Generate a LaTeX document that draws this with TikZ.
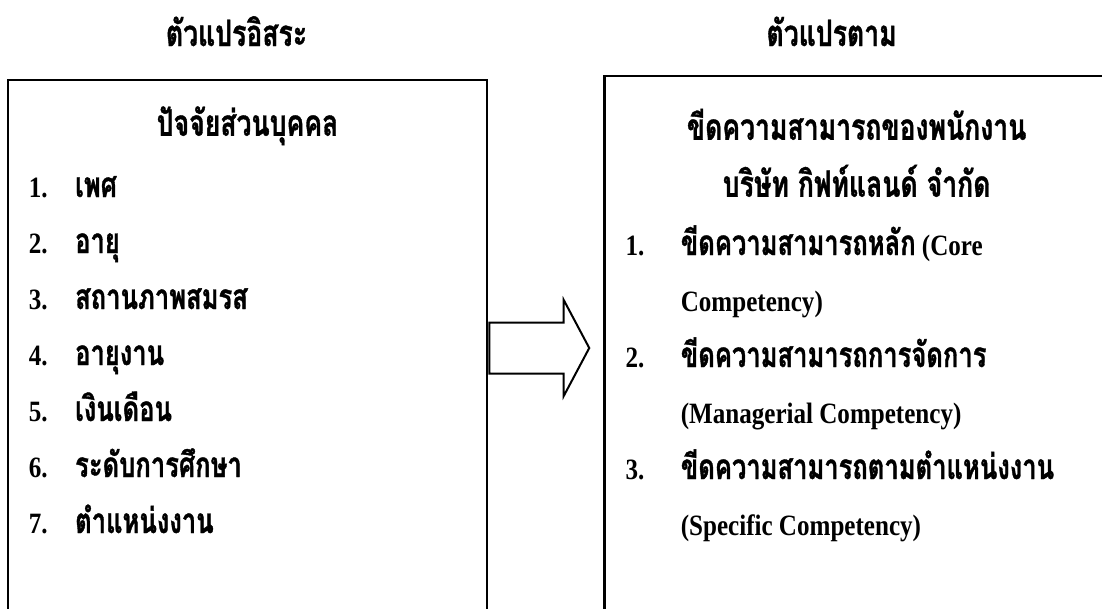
\documentclass[tikz,border=0pt]{standalone}
\usepackage{fontspec}
\setmainfont{Liberation Serif}[Scale=1.18,FakeStretch=0.85]
\newfontfamily\thaifont[Script=Thai,Scale=1.4,FakeStretch=0.73,FakeBold=1]{Loma}
\newcommand{\thaitxt}[1]{{\thaifont #1}}
\usetikzlibrary{positioning,shapes.arrows}

\begin{document}
\begin{tikzpicture}[x=1pt,y=-1pt]
        \tikzstyle{panel} = [rectangle, draw=black, line width=2.5pt, inner sep=0pt]
        \tikzstyle{bigarrow} = [single arrow, draw=black, line width=2pt, inner xsep=0pt, inner ysep=24.5pt, minimum height=100pt, single arrow head extend=22.5pt, single arrow tip angle=124, anchor=west]
        \tikzstyle{title} = [inner sep=0pt, font=\fontsize{26}{30}\selectfont\thaifont\bfseries]
        \tikzstyle{head} = [inner sep=0pt, font=\fontsize{26}{30}\selectfont\thaifont\bfseries]
        \tikzstyle{num} = [inner sep=0pt, font=\fontsize{25}{28}\selectfont\bfseries]
        \tikzstyle{item} = [inner sep=0pt, font=\fontsize{25}{28}\selectfont\bfseries]
        \useasboundingbox (0,0) rectangle (1102,608);

        % boxes and the arrow between them
        \node (indep) [panel, minimum width=479pt, minimum height=536pt] at (247.5,348) {};
        \node (link) [bigarrow, right=0pt of indep] {};
        \node (dep) [panel, minimum width=504pt, minimum height=544pt, right=13pt of link] {};

        \node (ttlL) [title, anchor=base] at ([xshift=-11pt]indep.north |- 0,46) {ตัวแปรอิสระ};
        \node (ttlR) [title, anchor=base] at ([xshift=-25pt]dep.north |- ttlL.base) {ตัวแปรตาม};

        % left box
        \node (headL) [head, below=57pt of indep.north, anchor=base] {ปัจจัยส่วนบุคคล};
        \node (n1) [num, anchor=base west] at ([xshift=22pt]indep.west |- 0,197) {1.};
        \node (n2) [num, below=56pt of n1.base, anchor=base] {2.};
        \node (n3) [num, below=56pt of n2.base, anchor=base] {3.};
        \node (n4) [num, below=56pt of n3.base, anchor=base] {4.};
        \node (n5) [num, below=56pt of n4.base, anchor=base] {5.};
        \node (n6) [num, below=56pt of n5.base, anchor=base] {6.};
        \node (n7) [num, below=56pt of n6.base, anchor=base] {7.};
        \node (l1) [item, right=27pt of n1.base east, anchor=base west] {\thaitxt{เพศ}};
        \node (l2) [item, right=27pt of n2.base east, anchor=base west] {\thaitxt{อายุ}};
        \node (l3) [item, right=27pt of n3.base east, anchor=base west] {\thaitxt{สถานภาพสมรส}};
        \node (l4) [item, right=27pt of n4.base east, anchor=base west] {\thaitxt{อายุงาน}};
        \node (l5) [item, right=27pt of n5.base east, anchor=base west] {\thaitxt{เงินเดือน}};
        \node (l6) [item, right=27pt of n6.base east, anchor=base west] {\thaitxt{ระดับการศึกษา}};
        \node (l7) [item, right=27pt of n7.base east, anchor=base west] {\thaitxt{ตำแหน่งงาน}};

        % right box
        \node (headR1) [head, below=65pt of dep.north, anchor=base] {ขีดความสามารถของพนักงาน};
        \node (headR2) [head, below=57pt of headR1.base, anchor=base] {บริษัท กิฟท์แลนด์ จำกัด};
        \node (m1) [num, anchor=base west] at ([xshift=22pt]dep.west |- 0,255) {1.};
        \node (m2) [num, below=112pt of m1.base, anchor=base] {2.};
        \node (m3) [num, below=112pt of m2.base, anchor=base] {3.};
        \node (r1) [item, right=36pt of m1.base east, anchor=base west] {\thaitxt{ขีดความสามารถหลัก} (Core};
        \node (r1b) [item, below=56pt of r1.base west, anchor=base west] {Competency)};
        \node (r2) [item, right=36pt of m2.base east, anchor=base west] {\thaitxt{ขีดความสามารถการจัดการ}};
        \node (r2b) [item, below=56pt of r2.base west, anchor=base west] {(Managerial Competency)};
        \node (r3) [item, right=36pt of m3.base east, anchor=base west] {\thaitxt{ขีดความสามารถตามตำแหน่งงาน}};
        \node (r3b) [item, below=56pt of r3.base west, anchor=base west] {(Specific Competency)};

    \end{tikzpicture}
\end{document}
